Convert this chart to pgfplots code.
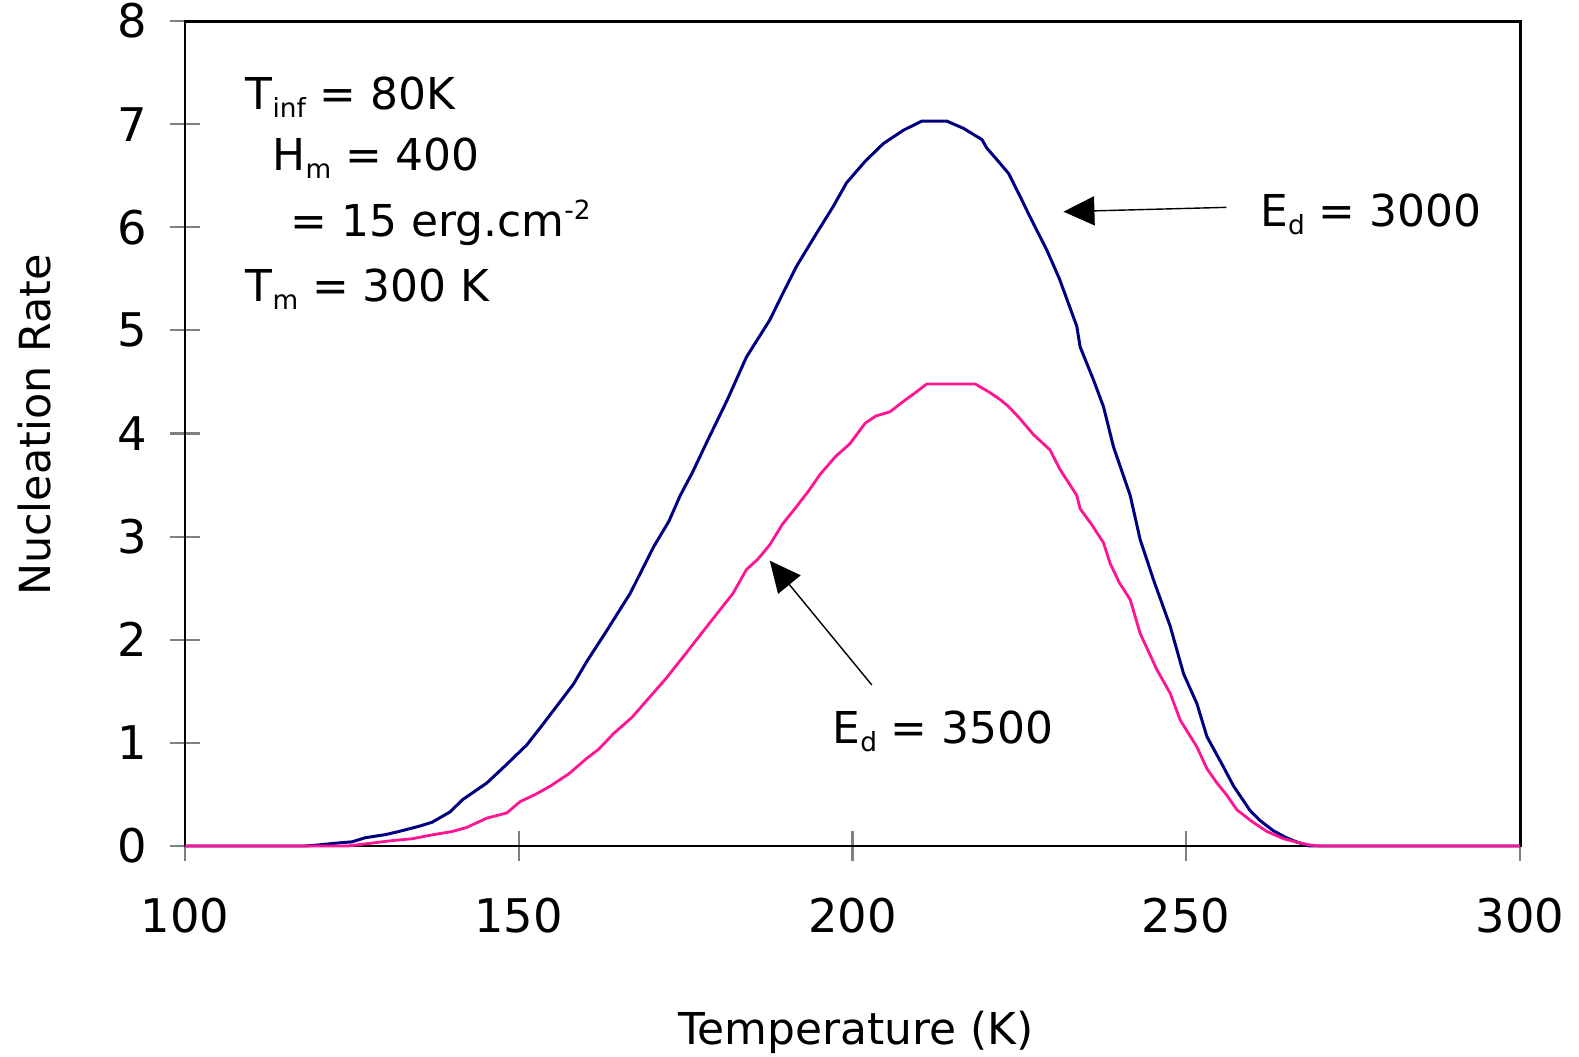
\documentclass[border=0pt]{standalone}
\usepackage{fontspec}
\setmainfont{DejaVu Sans}
\usepackage{pgfplots}
\pgfplotsset{compat=1.18}
\usetikzlibrary{arrows.meta}
\definecolor{navyline}{HTML}{000080}
\definecolor{pinkline}{HTML}{FF1493}
\newcommand{\mainfont}{\fontsize{12.5}{15}\selectfont}
\newcommand{\tickfont}{\fontsize{13.2}{15}\selectfont}
\newcommand{\sub}[1]{\raisebox{-0.8mm}{\fontsize{7.5}{8}\selectfont #1}}
\newcommand{\sups}[1]{\raisebox{1.7mm}{\fontsize{7.5}{8}\selectfont #1}}
\begin{document}
\begin{tikzpicture}
\path[use as bounding box] (-18.5mm,-21.1mm) rectangle (139.4mm,84.6mm);
\begin{axis}[
  at={(0,0)}, anchor=south west,
  scale only axis, width=133.5mm, height=82.5mm,
  xmin=100, xmax=300, ymin=0, ymax=8,
  xtick={100,150,200,250,300}, ytick={0,1,2,3,4,5,6,7,8},
  minor tick num=0,
  xtick pos=lower, ytick pos=left,
  tick align=center, major tick length=3mm,
  every tick/.style={gray, line width=0.6pt},
  axis line style={black, line width=0.85pt},
  /pgf/number format/assume math mode=true,
  /pgf/number format/1000 sep={},
  ticklabel style={font=\tickfont, text=black},
  yticklabel style={anchor=east, inner sep=0pt, xshift=-2.2mm},
  xticklabel style={anchor=north, inner sep=0pt, yshift=-3.6mm},
  label style={font=\mainfont},
  xlabel={Temperature (K)},
  ylabel={Nucleation Rate},
  xlabel style={at={(axis description cs:0.5026,-0.2255)}, anchor=center},
  ylabel style={at={(axis description cs:-0.1124,0.51)}, anchor=center, font=\fontsize{12.2}{15}\selectfont},
  clip=false,
]
\addplot[navyline, line width=0.85pt, line join=round] coordinates {
(100,0) (118,0) (120,0.01) (123,0.03) (125,0.04) (127,0.08) (130,0.11) (132,0.14)
(135,0.19) (137,0.23) (139.7,0.33) (141.6,0.45) (145.2,0.61) (148,0.78) (151.2,0.98)
(153.5,1.17) (156.2,1.40) (158.2,1.57) (160.2,1.79) (163.2,2.09) (166.7,2.45)
(170.2,2.90) (172.5,3.15) (174.2,3.40) (176,3.62) (178.2,3.92) (181.2,4.32)
(184.1,4.74) (187.6,5.10) (189.5,5.35) (191.6,5.62) (194.6,5.94) (197.1,6.20)
(199.1,6.43) (201.9,6.64) (204.6,6.81) (207.6,6.94) (210.4,7.03) (214.1,7.03)
(216.6,6.96) (219.4,6.85) (220.1,6.77) (222.1,6.62) (223.4,6.52) (225.1,6.30)
(226.6,6.10) (229.1,5.78) (231,5.50) (233.6,5.04) (234.1,4.84) (236.1,4.52)
(237.6,4.26) (239.1,3.87) (241.6,3.40) (243.1,2.97) (245.1,2.58) (247.6,2.13)
(249.6,1.67) (251.6,1.38) (253.1,1.06) (255.3,0.80) (257.1,0.58) (259.6,0.34)
(261,0.25) (263.0,0.15) (265,0.08) (266.5,0.04) (268.5,0) (300,0)
};
\addplot[pinkline, line width=0.8pt, line join=round] coordinates {
(100,0) (124.3,0) (127,0.02) (130.7,0.05) (134,0.07) (137.2,0.11) (140,0.14)
(142.2,0.18) (145.2,0.27) (148.2,0.32) (150.2,0.43) (152.5,0.50) (154.7,0.58)
(157.5,0.70) (160.2,0.85) (162,0.94) (164.2,1.09) (167,1.25) (169.7,1.45)
(172,1.62) (174.7,1.84) (178.2,2.13) (182.1,2.45) (184.1,2.68) (185.8,2.78)
(187.6,2.92) (189.5,3.12) (191.6,3.29) (193.5,3.45) (195.1,3.60) (197.5,3.78)
(199.6,3.90) (201.9,4.10) (203.5,4.17) (205.6,4.21) (207.6,4.31) (209.5,4.40)
(211.1,4.48) (218.4,4.48) (220.5,4.40) (222.1,4.33) (223.4,4.26) (225,4.15)
(227.1,3.99) (229.6,3.84) (231.1,3.65) (233.6,3.40) (234.1,3.27) (235.8,3.12)
(237.6,2.94) (238.6,2.74) (240,2.55) (241.6,2.39) (243.1,2.06) (245.6,1.71)
(247.6,1.48) (249.1,1.22) (251.6,0.96) (253.1,0.75) (254.5,0.62) (256.1,0.49)
(257.6,0.35) (260,0.23) (262.1,0.14) (264.6,0.07) (267.0,0.03) (268.5,0.01)
(270,0) (300,0)
};
\node[anchor=base west, inner sep=0pt, font=\mainfont] at (axis cs:109.0,7.14) {T\sub{inf} = 80K};
\node[anchor=base west, inner sep=0pt, font=\mainfont] at (axis cs:113.0,6.555) {H\sub{m} = 400};
\node[anchor=base west, inner sep=0pt, font=\mainfont] at (axis cs:115.7,5.91) {= 15 erg.cm\sups{-2}};
\node[anchor=base west, inner sep=0pt, font=\mainfont] at (axis cs:109.0,5.28) {T\sub{m} = 300 K};
\node[anchor=base west, inner sep=0pt, font=\mainfont] at (axis cs:261.0,6.005) {E\sub{d} = 3000};
\node[anchor=base west, inner sep=0pt, font=\mainfont] at (axis cs:196.9,0.996) {E\sub{d} = 3500};
\draw[black, line width=0.4pt, -{Triangle[length=3.1mm,width=2.9mm]}] (axis cs:256.0,6.193) -- (axis cs:231.6,6.151);
\draw[black, line width=0.4pt, -{Triangle[length=3.1mm,width=2.9mm]}] (axis cs:202.9,1.561) -- (axis cs:187.6,2.767);
\end{axis}
\end{tikzpicture}
\end{document}
